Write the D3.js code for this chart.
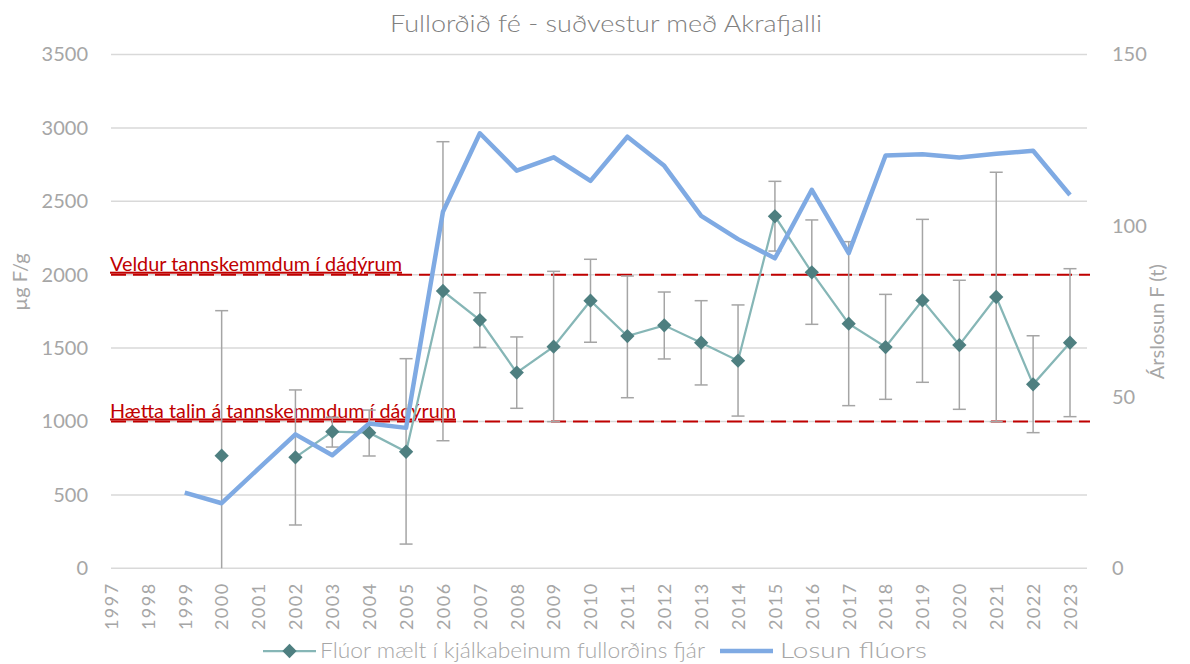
<!DOCTYPE html>
<html>
<head>
<meta charset="utf-8">
<script src="https://cdn.jsdelivr.net/npm/d3@7"></script>
<style>
  html, body { margin: 0; padding: 0; background: #fff; }
  svg { display: block; font-family: Lato, "Open Sans", sans-serif; }
</style>
</head>
<body>
<svg id="chart" width="1190" height="664"></svg>
<script>
// Years on the category axis
const years = [1997, 1998, 1999, 2000, 2001, 2002, 2003, 2004, 2005, 2006, 2007, 2008, 2009,
  2010, 2011, 2012, 2013, 2014, 2015, 2016, 2017, 2018, 2019, 2020, 2021, 2022, 2023];

// Fluoride in jaw bones of adult sheep (µg F/g): mean, lower and upper bar ends
const fluorMean = [null, null, null, 767, null, 756, 931, 924, 794, 1889, 1691, 1333, 1510,
  1823, 1582, 1655, 1537, 1414, 2398, 2016, 1666, 1507, 1825, 1521, 1848, 1253, 1537];
const fluorLow = [null, null, null, 0, null, 295, 826, 765, 165, 869, 1505, 1090, 999,
  1540, 1162, 1426, 1249, 1037, 2161, 1662, 1108, 1151, 1267, 1083, 999, 924, 1033];
const fluorHigh = [null, null, null, 1755, null, 1215, 1029, 1078, 1428, 2906, 1877, 1576, 2023,
  2105, 1991, 1882, 1823, 1794, 2636, 2373, 2225, 1866, 2377, 1962, 2698, 1584, 2041];

// Annual fluoride emission (t), right axis
const losun = [null, null, 22.1, 19.0, 29.1, 39.1, 33.0, 42.3, 41.0, 104.1, 127.0, 116.1, 120.0,
  113.1, 126.0, 117.5, 102.9, 96.1, 90.5, 110.5, 92.0, 120.5, 120.9, 119.9, 121.0, 121.9, 109.0];

// Reference levels (µg F/g) and their labels
const thresholdValues = [2000, 1000];
const thresholdLabels = ["Veldur tannskemmdum í dádýrum", "Hætta talin á tannskemmdum í dádýrum"];

const leftTicks = [0, 500, 1000, 1500, 2000, 2500, 3000, 3500];
const rightTicks = [0, 50, 100, 150];

const svg = d3.select("#chart");

const plotLeft = 111, plotRight = 1087, plotTop = 54.5, plotBottom = 568.3;

const x = d3.scalePoint().domain(years).range([plotLeft, 1070]);
const yL = d3.scaleLinear().domain([0, 3500]).range([plotBottom, plotTop]);
const yR = d3.scaleLinear().domain([0, 150]).range([plotBottom, plotTop]);

const gridColor = "#d9d9d9";
const tickColor = "#a6a6a6";

// Title
svg.append("text")
  .attr("x", 606).attr("y", 32)
  .attr("text-anchor", "middle")
  .attr("fill", "#808080")
  .attr("font-size", 23).attr("font-weight", 300)
  .attr("textLength", 432).attr("lengthAdjust", "spacingAndGlyphs")
  .text("Fullorðið fé - suðvestur með Akrafjalli");

// Horizontal gridlines
svg.append("g").selectAll("line").data(leftTicks).join("line")
  .attr("x1", plotLeft).attr("x2", plotRight)
  .attr("y1", d => yL(d)).attr("y2", d => yL(d))
  .attr("stroke", gridColor).attr("stroke-width", 1.5);

// Left axis
const axL = svg.append("g").attr("transform", `translate(${plotLeft},0)`)
  .call(d3.axisLeft(yL).tickValues(leftTicks).tickSize(0).tickPadding(23).tickFormat(d3.format("d")));
axL.select(".domain").remove();
axL.selectAll("text").attr("fill", tickColor).attr("font-size", 20)
  .attr("font-family", "Lato, sans-serif");

// Right axis
const axR = svg.append("g").attr("transform", `translate(${plotRight},0)`)
  .call(d3.axisRight(yR).tickValues(rightTicks).tickSize(0).tickPadding(25).tickFormat(d3.format("d")));
axR.select(".domain").remove();
axR.selectAll("text").attr("fill", tickColor).attr("font-size", 20)
  .attr("font-family", "Lato, sans-serif");

// Bottom axis, labels turned vertical
const axB = svg.append("g").attr("transform", `translate(0,${plotBottom})`)
  .call(d3.axisBottom(x).tickSize(0).tickFormat(d3.format("d")));
axB.select(".domain").remove();
axB.selectAll("text")
  .attr("fill", tickColor).attr("font-size", 18)
  .attr("font-family", "Lato, sans-serif")
  .attr("text-anchor", "end")
  .attr("dy", "0.35em")
  .attr("transform", "translate(0,14) rotate(-90)")
  .attr("x", 0).attr("y", 0)
  .attr("letter-spacing", 1.5);

// Axis titles
svg.append("text")
  .attr("transform", `translate(27,${yL(1950)}) rotate(-90)`)
  .attr("text-anchor", "middle").attr("fill", tickColor).attr("font-size", 20)
  .text("µg F/g");
svg.append("text")
  .attr("transform", `translate(1164,${yR(72)}) rotate(-90)`)
  .attr("text-anchor", "middle").attr("fill", tickColor).attr("font-size", 20)
  .text("Árslosun F (t)");

// Reference lines
const thrWidths = [292, 346];
const thr = svg.append("g");
thr.selectAll("line").data(thresholdValues).join("line")
  .attr("x1", plotLeft).attr("x2", 1090)
  .attr("y1", d => yL(d)).attr("y2", d => yL(d))
  .attr("stroke", "#c00000").attr("stroke-width", 2)
  .attr("stroke-dasharray", "15,7");
thr.selectAll("text").data(thresholdValues).join("text")
  .attr("x", 110).attr("y", d => yL(d) - 4)
  .attr("fill", "#c00000").attr("font-size", 20)
  .attr("text-decoration", "underline")
  .attr("textLength", (d, i) => thrWidths[i]).attr("lengthAdjust", "spacingAndGlyphs")
  .text((d, i) => thresholdLabels[i]);

// Error bars
const idx = years.map((y, i) => i).filter(i => fluorMean[i] != null);
const eb = svg.append("g").attr("stroke", "#a5a5a5").attr("stroke-width", 1.5);
eb.selectAll("line.v").data(idx).join("line").attr("class", "v")
  .attr("x1", i => x(years[i])).attr("x2", i => x(years[i]))
  .attr("y1", i => yL(fluorLow[i])).attr("y2", i => yL(fluorHigh[i]));
eb.selectAll("line.hi").data(idx).join("line").attr("class", "hi")
  .attr("x1", i => x(years[i]) - 6.5).attr("x2", i => x(years[i]) + 6.5)
  .attr("y1", i => yL(fluorHigh[i])).attr("y2", i => yL(fluorHigh[i]));
eb.selectAll("line.lo").data(idx.filter(i => fluorLow[i] > 0)).join("line").attr("class", "lo")
  .attr("x1", i => x(years[i]) - 6.5).attr("x2", i => x(years[i]) + 6.5)
  .attr("y1", i => yL(fluorLow[i])).attr("y2", i => yL(fluorLow[i]));

// Jaw bone fluoride line and diamond markers
const fluorLine = d3.line()
  .defined((d, i) => fluorMean[i] != null)
  .x((d, i) => x(years[i]))
  .y((d, i) => yL(fluorMean[i]));
svg.append("path").datum(fluorMean)
  .attr("d", fluorLine)
  .attr("fill", "none").attr("stroke", "#86b6b6").attr("stroke-width", 2.25);

const diamond = d3.symbol().type(d3.symbolDiamond2).size(130);
svg.append("g").selectAll("path").data(idx).join("path")
  .attr("d", diamond)
  .attr("transform", i => `translate(${x(years[i])},${yL(fluorMean[i])})`)
  .attr("fill", "#4e7f80");

// Emission line
const losunLine = d3.line()
  .defined((d, i) => losun[i] != null)
  .x((d, i) => x(years[i]))
  .y((d, i) => yR(losun[i]));
svg.append("path").datum(losun)
  .attr("d", losunLine)
  .attr("fill", "none").attr("stroke", "#7faae3").attr("stroke-width", 4.5)
  .attr("stroke-linejoin", "round");

// Legend
const lg = svg.append("g");
lg.append("line").attr("x1", 263).attr("x2", 316).attr("y1", 651).attr("y2", 651)
  .attr("stroke", "#86b6b6").attr("stroke-width", 2.25);
lg.append("path").attr("d", diamond)
  .attr("transform", "translate(289.5,651)").attr("fill", "#4e7f80");
lg.append("text").attr("x", 320).attr("y", 658)
  .attr("fill", tickColor).attr("font-size", 21).attr("font-weight", 300)
  .attr("textLength", 385).attr("lengthAdjust", "spacingAndGlyphs")
  .text("Flúor mælt í kjálkabeinum fullorðins fjár");
lg.append("line").attr("x1", 720).attr("x2", 773).attr("y1", 651).attr("y2", 651)
  .attr("stroke", "#7faae3").attr("stroke-width", 4.5);
lg.append("text").attr("x", 780).attr("y", 658)
  .attr("fill", tickColor).attr("font-size", 21).attr("font-weight", 300)
  .attr("textLength", 147).attr("lengthAdjust", "spacingAndGlyphs")
  .text("Losun flúors");
</script>
</body>
</html>
